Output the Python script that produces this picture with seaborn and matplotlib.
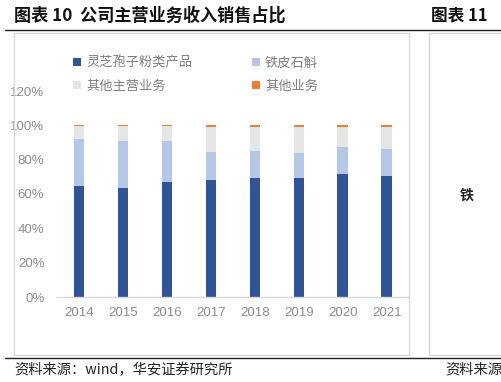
import matplotlib
matplotlib.use("Agg")
import matplotlib.pyplot as plt
from matplotlib.patches import Patch, Rectangle
from matplotlib.lines import Line2D
import seaborn as sns
import pandas as pd
import numpy as np

years = ["2014", "2015", "2016", "2017", "2018", "2019", "2020", "2021"]
lingzhi = [64.7, 63.3, 67.0, 68.0, 69.2, 69.2, 71.5, 70.4]
tiepi = [27.5, 27.7, 23.8, 16.4, 15.8, 14.8, 15.8, 15.7]
other_biz = [0.2, 0.5, 0.4, 0.7, 0.8, 1.2, 0.8, 0.8]
other_main = [round(100 - a - b - c, 2) for a, b, c in zip(lingzhi, tiepi, other_biz)]

series_names = ["灵芝孢子粉类产品", "铁皮石斛", "其他主营业务", "其他业务"]
colors = ["#2F5597", "#B4C7E7", "#E7E6E6", "#ED7D31"]
yticks = [0, 20, 40, 60, 80, 100, 120]
ytick_labels = ["0%", "20%", "40%", "60%", "80%", "100%", "120%"]

sns.set_theme(style="white")
plt.rcParams['font.family'] = ['Liberation Sans', 'Noto Sans CJK SC', 'DejaVu Sans']

fig = plt.figure(figsize=(5.02, 3.82), dpi=100)
W, H = 502, 382

def fx(x): return x / W
def fy(y): return 1 - y / H

# panel boxes
for x0, x1 in [(14, 409), (429, 520)]:
    fig.patches.append(Rectangle((fx(x0), fy(355)), fx(x1 - x0), (355 - 33) / H,
                                 transform=fig.transFigure, fill=False,
                                 edgecolor="#D9D9D9", linewidth=1.0))
# header / footer rules
for y in [29.5, 357.5]:
    fig.lines.append(Line2D([fx(5), 1], [fy(y), fy(y)], transform=fig.transFigure,
                            color="#222222", linewidth=1.0))

ax = fig.add_axes([fx(57), fy(297), fx(408.7 - 57), (297 - 91) / H])

cum = np.cumsum(np.array([lingzhi, tiepi, other_main, other_biz]), axis=0)
for i in range(3, -1, -1):
    d = pd.DataFrame({"year": years, "v": cum[i]})
    sns.barplot(data=d, x="year", y="v", color=colors[i], width=0.24,
                saturation=1, ax=ax, linewidth=0)

ax.set_xlim(-0.5, 7.5)
ax.set_ylim(0, 120)
ax.set_yticks(yticks)
ax.set_yticklabels(ytick_labels)
ax.set_xlabel("")
ax.set_ylabel("")
for s in ["top", "right", "left"]:
    ax.spines[s].set_visible(False)
ax.spines["bottom"].set_color("#D9D9D9")
ax.spines["bottom"].set_linewidth(1.0)
ax.tick_params(axis="y", length=0, pad=9, labelsize=9.5, labelcolor="#8C8C8C")
ax.tick_params(axis="x", length=0, pad=7, labelsize=9.5, labelcolor="#8C8C8C")
ax.grid(False)

handles = [Patch(facecolor=colors[k], edgecolor="none", label=series_names[k]) for k in [0, 2, 1, 3]]
fig.legend(handles=handles, ncol=2, loc="upper left", bbox_to_anchor=(fx(68), fy(51)),
           frameon=False, prop={"family": "Noto Sans CJK SC", "size": 9.5},
           labelcolor="#7F7F7F", handlelength=0.6, handleheight=0.6, handletextpad=0.4,
           columnspacing=4.5, labelspacing=0.75, borderaxespad=0)

cjk = ['Noto Sans CJK SC', 'DejaVu Sans']
fig.text(fx(14), fy(16), "图表 10  公司主营业务收入销售占比", fontsize=12.3, fontweight="bold",
         va="center", ha="left", family=cjk, color="#111111")
fig.text(fx(431), fy(16), "图表 11", fontsize=12, fontweight="bold",
         va="center", ha="left", family=cjk, color="#111111")
fig.text(fx(460), fy(196), "铁", fontsize=10, fontweight="bold",
         va="center", ha="left", family=cjk, color="#222222")
fig.text(fx(14), fy(370), "资料来源：wind，华安证券研究所", fontsize=10.3,
         va="center", ha="left", family=cjk, color="#222222")
fig.text(fx(445), fy(370), "资料来源", fontsize=10.3,
         va="center", ha="left", family=cjk, color="#222222")

fig.savefig("out.png", dpi=100)
